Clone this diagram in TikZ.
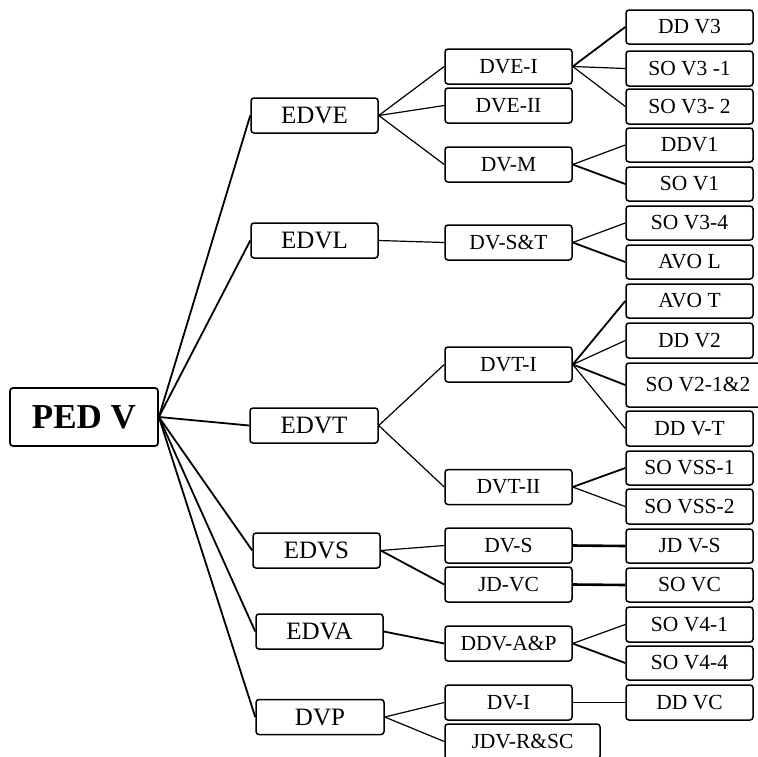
\documentclass[tikz,border=0pt]{standalone}
\usepackage{fontspec}
\setmainfont{Liberation Serif}
\begin{document}
\begin{tikzpicture}[x=1pt,y=-1pt,
  box/.style={draw=black, line width=1.5pt, rounded corners=3pt, inner sep=0pt, minimum width=127pt, minimum height=35pt, fill=white},
  lvA/.style={box, font=\fontsize{25}{28}\selectfont},
  lvB/.style={box, font=\fontsize{21.5}{24}\selectfont},
  rootbox/.style={box, line width=1.7pt, minimum width=148pt, minimum height=58pt, font=\fontsize{35}{38}\selectfont\bfseries},
  conn/.style={line width=1.2pt},
  thick conn/.style={line width=1.8pt},
  heavy conn/.style={line width=2.6pt}]
\clip (0,0) rectangle (758,756);
\fill[white] (0,0) rectangle (758,756);
% root
\node[rootbox] (root) at (84,417) {PED V};
% level 1
\node[lvA] (edve) at (314.5,115.5) {EDVE};
\node[lvA] (edvl) at (314.5,240.5) {EDVL};
\node[lvA, minimum width=128pt] (edvt) at (314,425.5) {EDVT};
\node[lvA] (edvs) at (316.5,550.5) {EDVS};
\node[lvA] (edva) at (319.5,631.5) {EDVA};
\node[lvA, minimum width=128pt] (dvp) at (320,717) {DVP};
% level 2
\node[lvB] (dvei) at (508.5,66.5) {DVE-I};
\node[lvB] (dveii) at (508.5,105.5) {DVE-II};
\node[lvB] (dvm) at (508.5,164.5) {DV-M};
\node[lvB] (dvst) at (508.5,242.5) {DV-S\&T};
\node[lvB] (dvti) at (508.5,364.5) {DVT-I};
\node[lvB] (dvtii) at (508.5,487) {DVT-II};
\node[lvB] (dvs) at (508.5,545.5) {DV-S};
\node[lvB] (jdvc) at (508.5,584.5) {JD-VC};
\node[lvB] (ddvap) at (508.5,643.5) {DDV-A\&P};
\node[lvB] (dvi) at (508.5,702.5) {DV-I};
\node[lvB, minimum width=155pt] (jdvrsc) at (522.5,741.5) {JDV-R\&SC};
% level 3
\node[lvB, minimum height=34pt] (ddv3) at (689.5,27) {DD V3};
\node[lvB] (sov31) at (689.5,68.5) {SO V3 -1};
\node[lvB] (sov32) at (689.5,106.5) {SO V3- 2};
\node[lvB, minimum height=34pt] (ddv1) at (689.5,145) {DDV1};
\node[lvB, minimum height=34pt] (sov1) at (689.5,184) {SO V1};
\node[lvB, minimum height=34pt] (sov34) at (689.5,223) {SO V3-4};
\node[lvB, minimum height=34pt] (avol) at (689.5,262) {AVO L};
\node[lvB, minimum height=34pt] (avot) at (689.5,301) {AVO T};
\node[lvB] (ddv2) at (689.5,340.5) {DD V2};
\node[lvB, minimum width=144pt, minimum height=44pt] (sov212) at (698,385) {SO V2-1\&2};
\node[lvB] (ddvt) at (689.5,428.5) {DD V-T};
\node[lvB, minimum height=34pt] (sovss1) at (689.5,468) {SO VSS-1};
\node[lvB] (sovss2) at (689.5,506.5) {SO VSS-2};
\node[lvB, minimum height=34pt] (jdvs) at (689.5,546) {JD V-S};
\node[lvB, minimum height=34pt] (sovc) at (689.5,585) {SO VC};
\node[lvB] (sov41) at (689.5,624.5) {SO V4-1};
\node[lvB, minimum height=34pt] (sov44) at (689.5,663) {SO V4-4};
\node[lvB] (ddvc) at (689.5,702.5) {DD VC};
% connectors root -> level 1
\foreach \t in {edve,edvl,edvt,edvs,edva,dvp}
  \draw[thick conn] (root.east) -- (\t.west);
% level 1 -> level 2
\draw[conn] (edve.east) -- (dvei.west);
\draw[conn] (edve.east) -- (dveii.west);
\draw[conn] (edve.east) -- (dvm.west);
\draw[conn] (edvl.east) -- (dvst.west);
\draw[conn] (edvt.east) -- (dvti.west);
\draw[conn] (edvt.east) -- (dvtii.west);
\draw[conn] (edvs.east) -- (dvs.west);
\draw[thick conn] (edvs.east) -- (jdvc.west);
\draw[thick conn] (edva.east) -- (ddvap.west);
\draw[conn] (dvp.east) -- (dvi.west);
\draw[conn] (dvp.east) -- (jdvrsc.west);
% level 2 -> level 3
\draw[thick conn] (dvei.east) -- (ddv3.west);
\draw[conn] (dvei.east) -- (sov31.west);
\draw[conn] (dvei.east) -- (sov32.west);
\draw[conn] (dvm.east) -- (ddv1.west);
\draw[thick conn] (dvm.east) -- (sov1.west);
\draw[conn] (dvst.east) -- (sov34.west);
\draw[thick conn] (dvst.east) -- (avol.west);
\draw[thick conn] (dvti.east) -- (avot.west);
\draw[conn] (dvti.east) -- (ddv2.west);
\draw[thick conn] (dvti.east) -- (sov212.west);
\draw[conn] (dvti.east) -- (ddvt.west);
\draw[thick conn] (dvtii.east) -- (sovss1.west);
\draw[conn] (dvtii.east) -- (sovss2.west);
\draw[heavy conn] (dvs.east) -- (jdvs.west);
\draw[heavy conn] (jdvc.east) -- (sovc.west);
\draw[conn] (ddvap.east) -- (sov41.west);
\draw[thick conn] (ddvap.east) -- (sov44.west);
\draw[conn] (dvi.east) -- (ddvc.west);
\end{tikzpicture}
\end{document}
